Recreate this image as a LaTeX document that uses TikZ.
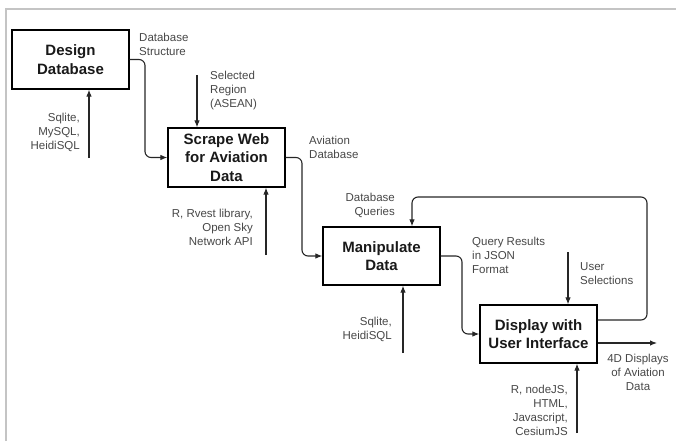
\documentclass[tikz,border=0pt]{standalone}
\usepackage{fontspec}
\setmainfont{Liberation Sans}
\usetikzlibrary{arrows.meta}
\definecolor{lblgray}{HTML}{474747}
\definecolor{framegray}{HTML}{C4C4C4}
\tikzset{
  procbox/.style={draw=black, line width=1.2pt, minimum width=117pt, minimum height=59pt,
    align=center, inner sep=2pt, font=\fontsize{15}{18.5}\selectfont\bfseries, text=black!90},
  lbl/.style={inner sep=0pt, text=lblgray, font=\fontsize{11.5}{14}\selectfont},
  conn/.style={draw=black!85, line width=1.1pt, rounded corners=6pt, -{Latex[length=7pt,width=5.5pt]}},
}
\begin{document}
\begin{tikzpicture}[x=1pt,y=-1pt]
\useasboundingbox (0,0) rectangle (676,441);
\draw[framegray, line width=2pt] (6,441) -- (6,9) -- (676,9);

% boxes
\node[procbox] (dd) at (70.5,59.5) {Design\\Database};
\node[procbox] (sw) at (226.5,157.5) {Scrape Web\\for Aviation\\Data};
\node[procbox, minimum height=58pt] (md) at (381.5,256) {Manipulate\\Data};
\node[procbox, minimum height=58pt] (ui) at (538.5,334) {Display with\\User Interface};

% free ends
\coordinate (inSel) at (197,75);
\coordinate (inUser) at (568,252);
\coordinate (mDD) at (89,158);
\coordinate (mSW) at (266,255);
\coordinate (mMD) at (403,353);
\coordinate (mUI) at (577,433);
\coordinate (out) at (657,343);

% flow connectors
\draw[conn] (dd.east) -- (145,59.5) |- (sw.west);
\draw[conn] (sw.east) -- (302,157.5) |- (md.west);
\draw[conn] (md.east) -- (462,256) |- (ui.west);
\draw[conn] ([yshift=14pt]ui.east) -| (647,197) -| ([xshift=30.5pt]md.north);
\draw[conn, rounded corners=0pt] ([yshift=-9pt]ui.east) -- (out);

% controls
\draw[conn] (inSel) -- (inSel |- sw.north);
\draw[conn] (inUser) -- (inUser |- ui.north);

% mechanisms
\draw[conn] (mDD) -- (mDD |- dd.south);
\draw[conn] (mSW) -- (mSW |- sw.south);
\draw[conn] (mMD) -- (mMD |- md.south);
\draw[conn] (mUI) -- (mUI |- ui.south);

% labels
\node[lbl, anchor=west, align=left] (l1) at (139,44.5) {Database\\Structure};
\node[lbl, anchor=west, align=left] (l2) at (210,91) {Selected\\Region\\(ASEAN)};
\node[lbl, anchor=east, align=right] (l3) at (80,132.5) {Sqlite,\\MySQL,\\HeidiSQL};
\node[lbl, anchor=west, align=left] (l4) at (309,147) {Aviation\\Database};
\node[lbl, anchor=east, align=right] (l5) at (253,227) {R, Rvest library,\\Open Sky\\Network API};
\node[lbl, anchor=east, align=right] (l6) at (395,205.5) {Database\\Queries};
\node[lbl, anchor=west, align=left] (l7) at (472,255) {Query Results\\in JSON\\Format};
\node[lbl, anchor=west, align=left] (l8) at (580,274) {User\\Selections};
\node[lbl, align=center] (l9) at (638,372.5) {4D Displays\\of Aviation\\Data};
\node[lbl, anchor=east, align=right] (l10) at (392,329.5) {Sqlite,\\HeidiSQL};
\node[lbl, anchor=east, align=right] (l11) at (568,410) {R, nodeJS,\\HTML,\\Javascript,\\CesiumJS};
\end{tikzpicture}
\end{document}
